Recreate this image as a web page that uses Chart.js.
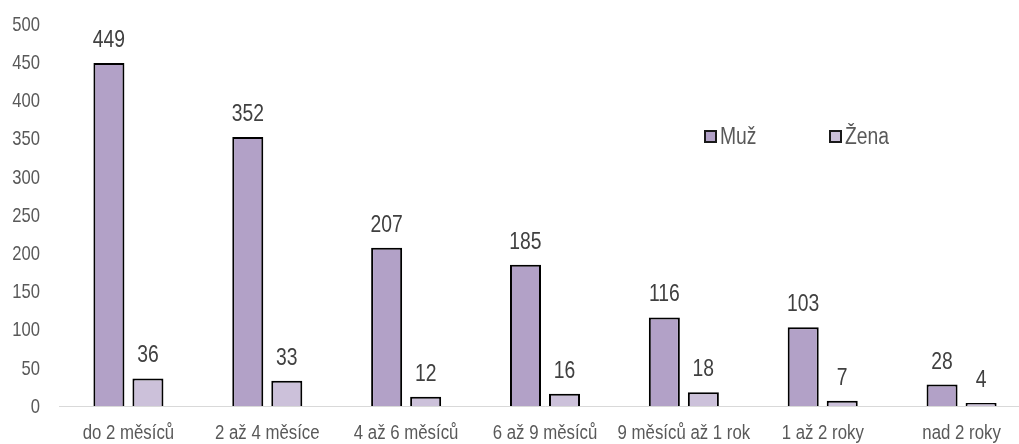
<!DOCTYPE html>
<html>
<head>
<meta charset="utf-8">
<script src="https://cdn.jsdelivr.net/npm/chart.js@4/dist/chart.umd.min.js"></script>
<style>
  html, body { margin: 0; padding: 0; background: #fff; overflow: hidden; }
  #wrap { width: 1031px; height: 444px; }
</style>
</head>
<body>
<div id="wrap"><canvas id="graf"></canvas></div>
<script>
"use strict";

/* ===== DADOS ===== */
const kategorie = ["do 2 měsíců", "2 až 4 měsíce", "4 až 6 měsíců", "6 až 9 měsíců", "9 měsíců až 1 rok", "1 až 2 roky", "nad 2 roky"];
const muz = [449, 352, 207, 185, 116, 103, 28];
const zena = [36, 33, 12, 16, 18, 7, 4];
const yMin = 0, yMax = 500, yKrok = 50;

const FONT = "'Liberation Sans', Arial, sans-serif";
const barvaMuz = "#b2a1c7";
const barvaZena = "#ccc1da";

// text zúžený vodorovně (simulace Arial Narrow)
function uzkyText(ctx, text, x, y, zarovnani, pomer = 0.84) {
    ctx.save();
    ctx.translate(x, y);
    ctx.scale(pomer, 1);
    ctx.textAlign = zarovnani;
    ctx.fillText(text, 0, 0);
    ctx.restore();
}

// popisky os (úzké písmo)
const osy = {
    id: "osy",
    afterDraw(chart) {
        const ctx = chart.ctx;
        const sx = chart.scales.x, sy = chart.scales.y;
        ctx.save();
        ctx.fillStyle = "#595959";
        ctx.textBaseline = "middle";
        ctx.font = "21px " + FONT;
        sy.ticks.forEach(t => {
            uzkyText(ctx, String(t.value), 40, sy.getPixelForValue(t.value) + 1, "right", 0.79);
        });
        ctx.font = "20px " + FONT;
        chart.data.labels.forEach((lab, i) => {
            uzkyText(ctx, lab, sx.getPixelForTick(i), 433, "center");
        });
        ctx.restore();
    }
};

// popisky hodnot nad sloupci
const popisky = {
    id: "popisky",
    afterDatasetsDraw(chart) {
        const ctx = chart.ctx;
        ctx.save();
        ctx.font = "23px " + FONT;
        ctx.fillStyle = "#404040";
        ctx.textBaseline = "alphabetic";
        chart.data.datasets.forEach((ds, i) => {
            chart.getDatasetMeta(i).data.forEach((bar, j) => {
                uzkyText(ctx, String(ds.data[j]), bar.x, bar.y - 16, "center");
            });
        });
        ctx.restore();
    }
};

// legenda uvnitř grafu
const legenda = {
    id: "legenda",
    afterDraw(chart) {
        const ctx = chart.ctx;
        const pozice = [705, 830];
        const y = 137;
        ctx.save();
        ctx.font = "23px " + FONT;
        ctx.textBaseline = "middle";
        chart.data.datasets.forEach((ds, i) => {
            const x = pozice[i];
            ctx.fillStyle = ds.backgroundColor;
            ctx.fillRect(x, y - 6, 11, 11);
            ctx.lineWidth = 2;
            ctx.strokeStyle = "#1a1a1a";
            ctx.strokeRect(x, y - 6, 11, 11);
            ctx.fillStyle = "#595959";
            uzkyText(ctx, ds.label, x + 15, y + 1, "left");
        });
        ctx.restore();
    }
};

new Chart(document.getElementById("graf"), {
    type: "bar",
    data: {
        labels: kategorie,
        datasets: [
            { label: "Muž", data: muz, backgroundColor: barvaMuz, borderColor: "#000", borderWidth: 2 },
            { label: "Žena", data: zena, backgroundColor: barvaZena, borderColor: "#000", borderWidth: 2 }
        ]
    },
    options: {
        responsive: true,
        maintainAspectRatio: false,
        animation: false,
        categoryPercentage: 0.562,
        barPercentage: 0.795,
        layout: { padding: { top: 24, right: 0, left: 0, bottom: 0 } },
        plugins: {
            legend: { display: false },
            tooltip: { enabled: false }
        },
        scales: {
            x: {
                grid: { display: false, drawTicks: false },
                border: { display: true, color: "#d9d9d9", width: 1 },
                ticks: { display: false, autoSkip: false },
                afterFit(axis) { axis.height = 38; }
            },
            y: {
                min: yMin,
                max: yMax,
                grid: { display: false, drawTicks: false },
                border: { display: false },
                ticks: { display: false, stepSize: yKrok },
                afterFit(axis) { axis.width = 59; }
            }
        }
    },
    plugins: [osy, popisky, legenda]
});
</script>
</body>
</html>
